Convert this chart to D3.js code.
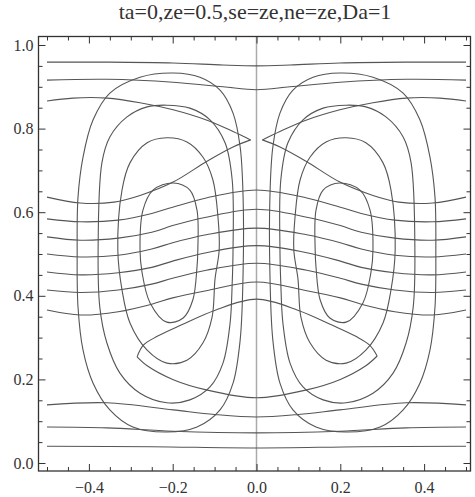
<!DOCTYPE html>
<html>
<head>
<meta charset="utf-8">
<script src="https://cdn.jsdelivr.net/npm/d3@7"></script>
<style>
  body { margin: 0; background: #fff; }
  text { fill: #333; }
</style>
</head>
<body>
<svg id="chart" width="475" height="497"></svg>
<script>
// ---- data ----
var titleText = "ta=0,ze=0.5,se=ze,ne=ze,Da=1"
var xTickValues = [-0.4, -0.2, 0, 0.2, 0.4]
var yTickValues = [0, 0.2, 0.4, 0.6, 0.8, 1.0]

// streamlines, left cell (closed, outer -> inner)
var leftCell1 = [[-0.428,0.510],[-0.426,0.636],[-0.414,0.732],[-0.390,0.821],[-0.350,0.885],[-0.278,0.923],[-0.199,0.933],[-0.135,0.923],[-0.087,0.892],[-0.056,0.837],[-0.039,0.756],[-0.032,0.636],[-0.032,0.455],[-0.039,0.294],[-0.056,0.191],[-0.087,0.127],[-0.142,0.086],[-0.214,0.074],[-0.295,0.086],[-0.350,0.127],[-0.390,0.191],[-0.414,0.270],[-0.426,0.373]]
var leftCell2 = [[-0.378,0.510],[-0.369,0.718],[-0.350,0.780],[-0.309,0.828],[-0.261,0.852],[-0.214,0.856],[-0.159,0.849],[-0.111,0.821],[-0.075,0.766],[-0.058,0.677],[-0.056,0.510],[-0.058,0.430],[-0.063,0.335],[-0.080,0.239],[-0.111,0.182],[-0.159,0.151],[-0.214,0.144],[-0.278,0.167],[-0.326,0.215],[-0.357,0.287],[-0.374,0.373]]
var leftCell3 = [[-0.331,0.510],[-0.321,0.653],[-0.302,0.718],[-0.261,0.766],[-0.214,0.778],[-0.166,0.768],[-0.128,0.732],[-0.104,0.677],[-0.092,0.589],[-0.089,0.510],[-0.099,0.440],[-0.106,0.349],[-0.128,0.287],[-0.166,0.246],[-0.214,0.239],[-0.261,0.270],[-0.302,0.335],[-0.321,0.414]]
var leftCell4 = [[-0.278,0.510],[-0.271,0.605],[-0.247,0.653],[-0.199,0.670],[-0.159,0.653],[-0.142,0.605],[-0.140,0.510],[-0.142,0.469],[-0.152,0.390],[-0.175,0.347],[-0.214,0.337],[-0.254,0.383],[-0.273,0.455]]

// streamlines, right cell (closed, outer -> inner)
var rightCell1 = [[0.428,0.510],[0.426,0.636],[0.414,0.732],[0.390,0.821],[0.350,0.885],[0.278,0.923],[0.199,0.933],[0.135,0.923],[0.087,0.892],[0.056,0.837],[0.039,0.756],[0.032,0.636],[0.032,0.455],[0.039,0.294],[0.056,0.191],[0.087,0.127],[0.142,0.086],[0.214,0.074],[0.295,0.086],[0.350,0.127],[0.390,0.191],[0.414,0.270],[0.426,0.373]]
var rightCell2 = [[0.378,0.510],[0.369,0.718],[0.350,0.780],[0.309,0.828],[0.261,0.852],[0.214,0.856],[0.159,0.849],[0.111,0.821],[0.075,0.766],[0.058,0.677],[0.056,0.510],[0.058,0.430],[0.063,0.335],[0.080,0.239],[0.111,0.182],[0.159,0.151],[0.214,0.144],[0.278,0.167],[0.326,0.215],[0.357,0.287],[0.374,0.373]]
var rightCell3 = [[0.331,0.510],[0.321,0.653],[0.302,0.718],[0.261,0.766],[0.214,0.778],[0.166,0.768],[0.128,0.732],[0.104,0.677],[0.092,0.589],[0.089,0.510],[0.099,0.440],[0.106,0.349],[0.128,0.287],[0.166,0.246],[0.214,0.239],[0.261,0.270],[0.302,0.335],[0.321,0.414]]
var rightCell4 = [[0.278,0.510],[0.271,0.605],[0.247,0.653],[0.199,0.670],[0.159,0.653],[0.142,0.605],[0.140,0.510],[0.142,0.469],[0.152,0.390],[0.175,0.347],[0.214,0.337],[0.254,0.383],[0.273,0.455]]

// dividing streamline at x = 0, runs frame to frame
var centerLine = [[0, -0.02], [0, 1.02]]

// isolines, open curves left edge -> right edge
var topLine1 = [[-0.5,0.959],[-0.357,0.959],[-0.199,0.957],[-0.080,0.952],[0,0.950],[0.080,0.952],[0.199,0.957],[0.359,0.959],[0.5,0.959]]
var topLine2 = [[-0.5,0.916],[-0.357,0.918],[-0.199,0.911],[-0.080,0.900],[0,0.893],[0.080,0.900],[0.199,0.911],[0.359,0.918],[0.5,0.916]]
var midLine1 = [[-0.5,0.584],[-0.42,0.577],[-0.33,0.581],[-0.25,0.597],[-0.2,0.612],[-0.12,0.634],[0,0.653],[0.12,0.634],[0.2,0.612],[0.25,0.597],[0.33,0.581],[0.42,0.577],[0.5,0.584]]
var midLine2 = [[-0.5,0.541],[-0.42,0.533],[-0.33,0.538],[-0.25,0.552],[-0.2,0.568],[-0.12,0.588],[0,0.607],[0.12,0.588],[0.2,0.568],[0.25,0.552],[0.33,0.538],[0.42,0.533],[0.5,0.541]]
var midLine3 = [[-0.5,0.500],[-0.42,0.493],[-0.33,0.497],[-0.25,0.512],[-0.2,0.527],[-0.12,0.546],[0,0.562],[0.12,0.546],[0.2,0.527],[0.25,0.512],[0.33,0.497],[0.42,0.493],[0.5,0.500]]
var midLine4 = [[-0.5,0.457],[-0.42,0.450],[-0.33,0.455],[-0.25,0.468],[-0.2,0.483],[-0.12,0.503],[0,0.520],[0.12,0.503],[0.2,0.483],[0.25,0.468],[0.33,0.455],[0.42,0.450],[0.5,0.457]]
var midLine5 = [[-0.5,0.414],[-0.42,0.408],[-0.33,0.414],[-0.25,0.428],[-0.2,0.442],[-0.12,0.461],[0,0.478],[0.12,0.461],[0.2,0.442],[0.25,0.428],[0.33,0.414],[0.42,0.408],[0.5,0.414]]
var midLine6 = [[-0.5,0.366],[-0.42,0.354],[-0.33,0.362],[-0.25,0.380],[-0.2,0.395],[-0.12,0.412],[0,0.433],[0.12,0.412],[0.2,0.395],[0.25,0.380],[0.33,0.362],[0.42,0.354],[0.5,0.366]]
var lowLine3 = [[-0.5,0.139],[-0.357,0.144],[-0.199,0.127],[-0.1,0.116],[0,0.110],[0.1,0.116],[0.199,0.127],[0.357,0.144],[0.5,0.139]]
var lowLine2 = [[-0.5,0.086],[-0.357,0.084],[-0.199,0.076],[0,0.072],[0.199,0.076],[0.357,0.084],[0.5,0.086]]
var lowLine1 = [[-0.5,0.040],[-0.25,0.039],[0,0.036],[0.25,0.039],[0.5,0.040]]

// folded isolines near the top (two branches meeting at a sharp tip)
var foldLeftUpper = [[-0.5,0.866],[-0.438,0.873],[-0.357,0.873],[-0.278,0.862],[-0.199,0.845],[-0.118,0.820],[-0.056,0.793],[-0.014,0.773]]
var foldLeftLower = [[-0.014,0.773],[-0.056,0.756],[-0.118,0.722],[-0.199,0.672],[-0.278,0.640],[-0.340,0.624],[-0.421,0.622],[-0.5,0.636]]
var foldRightUpper = [[0.5,0.866],[0.438,0.873],[0.357,0.873],[0.278,0.862],[0.199,0.845],[0.118,0.820],[0.056,0.793],[0.014,0.773]]
var foldRightLower = [[0.014,0.773],[0.056,0.756],[0.118,0.722],[0.199,0.672],[0.278,0.640],[0.340,0.624],[0.421,0.622],[0.5,0.636]]

// lens shaped isoline in the lower half (two branches, tips at both ends)
var lensUpper = [[-0.285,0.254],[-0.270,0.282],[-0.237,0.303],[-0.180,0.330],[-0.100,0.365],[0,0.392],[0.100,0.365],[0.180,0.330],[0.237,0.303],[0.270,0.282],[0.288,0.256]]
var lensLower = [[-0.285,0.254],[-0.260,0.232],[-0.200,0.200],[-0.120,0.175],[0,0.156],[0.120,0.175],[0.200,0.200],[0.260,0.232],[0.288,0.256]]

var closedCurves = [leftCell1, leftCell2, leftCell3, leftCell4, rightCell1, rightCell2, rightCell3, rightCell4]
var openCurves = [topLine1, topLine2, midLine1, midLine2, midLine3, midLine4, midLine5, midLine6,
                  lowLine1, lowLine2, lowLine3, foldLeftUpper, foldLeftLower, foldRightUpper, foldRightLower,
                  lensUpper, lensLower]

// ---- drawing ----
var svg = d3.select("#chart")
var frame = {left: 38.5, right: 470.5, top: 36.5, bottom: 471}

var x = d3.scaleLinear().domain([-0.5, 0.5]).range([47, 466])
var y = d3.scaleLinear().domain([0, 1]).range([463, 45])

var fmt = function (d) { return d3.format(".1f")(d).replace("-", "\u2212") }
var serif = "'Liberation Serif', 'DejaVu Serif', serif"

svg.append("text")
    .attr("x", 255)
    .attr("y", 19)
    .attr("text-anchor", "middle")
    .style("font-family", serif)
    .style("font-size", "22px")
    .text(titleText)

var plot = svg.append("g")

plot.append("path")
    .datum(centerLine)
    .attr("d", d3.line().x(d => x(d[0])).y(d => y(d[1])))
    .attr("fill", "none")
    .attr("stroke", "#aaa")
    .attr("stroke-width", 1.5)

plot.selectAll("path.loop")
    .data(closedCurves)
    .join("path")
    .attr("class", "loop")
    .attr("d", d3.line().x(d => x(d[0])).y(d => y(d[1])).curve(d3.curveCatmullRomClosed))
    .attr("fill", "none")
    .attr("stroke", "#555")
    .attr("stroke-width", 1.1)

plot.selectAll("path.iso")
    .data(openCurves)
    .join("path")
    .attr("class", "iso")
    .attr("d", d3.line().x(d => x(d[0])).y(d => y(d[1])).curve(d3.curveCatmullRom))
    .attr("fill", "none")
    .attr("stroke", "#555")
    .attr("stroke-width", 1.1)

// frame
svg.append("rect")
    .attr("x", frame.left)
    .attr("y", frame.top)
    .attr("width", frame.right - frame.left)
    .attr("height", frame.bottom - frame.top)
    .attr("fill", "none")
    .attr("stroke", "#333")
    .attr("stroke-width", 1.3)

var minorX = d3.range(-0.5, 0.5001, 0.05).filter(v => xTickValues.every(t => Math.abs(t - v) > 1e-6))
var minorY = d3.range(0, 1.0001, 0.05).filter(v => yTickValues.every(t => Math.abs(t - v) > 1e-6))

function ticks(axis, pos, major, minor) {
    var g = svg.append("g").attr("transform", pos)
    g.call(axis.tickValues(minor).tickSize(-4).tickFormat(""))
    g.select(".domain").remove()
    var g2 = svg.append("g").attr("transform", pos)
    g2.call(axis.tickValues(major).tickSize(-7).tickFormat(fmt))
    g2.select(".domain").remove()
    g.selectAll("line").attr("stroke", "#333")
    g2.selectAll("line").attr("stroke", "#333")
    return g2
}

var bottom = ticks(d3.axisBottom(x), "translate(0," + frame.bottom + ")", xTickValues, minorX)
bottom.attr("font-family", serif).attr("font-size", 16)
bottom.selectAll("text")
    .attr("y", 11)
    .attr("dy", "0.71em")
ticks(d3.axisTop(x), "translate(0," + frame.top + ")", xTickValues, minorX).selectAll("text").remove()

var left = ticks(d3.axisLeft(y), "translate(" + frame.left + ",0)", yTickValues, minorY)
left.attr("font-family", serif).attr("font-size", 16)
left.selectAll("text")
    .attr("x", -5)
ticks(d3.axisRight(y), "translate(" + frame.right + ",0)", yTickValues, minorY).selectAll("text").remove()

svg.selectAll(".tick text").attr("fill", "#333")
</script>
</body>
</html>
